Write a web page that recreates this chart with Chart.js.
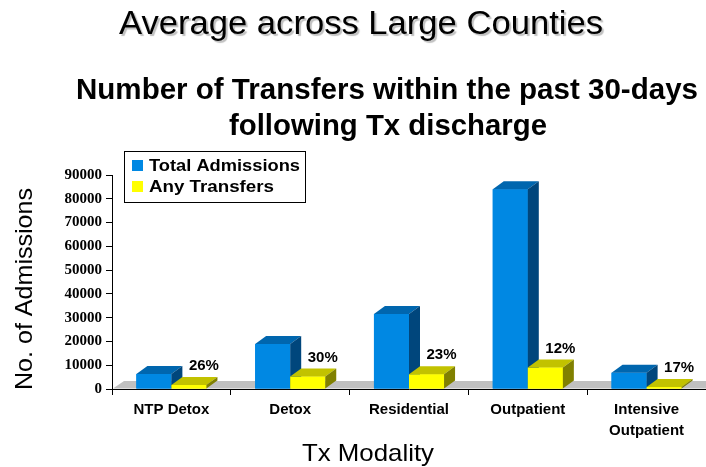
<!DOCTYPE html>
<html><head><meta charset="utf-8">
<script src="https://cdn.jsdelivr.net/npm/chart.js@4/dist/chart.umd.min.js"></script>
<style>html,body{margin:0;padding:0;background:#fff;}#wrap{width:706px;height:467px;position:relative;}</style>
</head><body><div id="wrap"><canvas id="c" width="706" height="467"></canvas></div>
<script>
// ---- data ----
const categories = [["NTP Detox"], ["Detox"], ["Residential"], ["Outpatient"], ["Intensive", "Outpatient"]];
const seriesNames = ["Total Admissions", "Any Transfers"];
const totalAdmissions = [6300, 18900, 31500, 84000, 6850];
const anyTransfers = [1700, 5300, 6200, 9000, 800];
const transferPctLabels = ["26%", "30%", "23%", "12%", "17%"];
const yMin = 0, yMax = 90000, yStep = 10000;
const mainTitle = "Average across Large Counties";
const chartTitleLines = ["Number of Transfers within the past 30-days", "following Tx discharge"];
const yAxisTitle = "No. of Admissions";
const xAxisTitle = "Tx Modality";

// ---- styling ----
const frontColors = ["#0088E3", "#FFFF00"];
const topColors = ["#0066AE", "#C2C200"];
const sideColors = ["#00467C", "#808000"];
const DX = 11, DY = 8;
const SANS = "'Liberation Sans', Arial, sans-serif";
const SERIF = "'Liberation Serif', 'Times New Roman', serif";

function fitText(ctx, text, x, y, font, width, align) {
  ctx.save();
  ctx.font = font;
  const w = ctx.measureText(text).width;
  const s = width ? width / w : 1;
  ctx.translate(x, y);
  ctx.scale(s, 1);
  ctx.textAlign = align || 'center';
  ctx.textBaseline = 'alphabetic';
  ctx.fillText(text, 0, 0);
  ctx.restore();
}

const floorPlugin = {
  id: 'floor3d',
  beforeDatasetsDraw(chart) {
    const ctx = chart.ctx, a = chart.chartArea;
    const base = chart.scales.y.getPixelForValue(0);
    ctx.save();
    ctx.fillStyle = '#C0C0C0';
    ctx.beginPath();
    ctx.moveTo(a.left + 1, base - 0.5);
    ctx.lineTo(a.left + 1 + DX, base - DY);
    ctx.lineTo(a.right, base - DY);
    ctx.lineTo(a.right, base - 0.5);
    ctx.closePath();
    ctx.fill();
    ctx.restore();
  }
};

const bars3dPlugin = {
  id: 'bars3d',
  afterDatasetsDraw(chart) {
    const ctx = chart.ctx;
    ctx.save();
    chart.data.datasets.forEach((ds, di) => {
      const meta = chart.getDatasetMeta(di);
      meta.data.forEach(bar => {
        bar.draw(ctx);
        const p = bar.getProps(['x', 'y', 'base', 'width'], true);
        const l = p.x - p.width / 2, r = p.x + p.width / 2;
        ctx.fillStyle = topColors[di];
        ctx.beginPath();
        ctx.moveTo(l, p.y); ctx.lineTo(l + DX, p.y - DY); ctx.lineTo(r + DX, p.y - DY); ctx.lineTo(r, p.y);
        ctx.closePath(); ctx.fill();
        ctx.fillStyle = sideColors[di];
        ctx.beginPath();
        ctx.moveTo(r, p.y); ctx.lineTo(r + DX, p.y - DY); ctx.lineTo(r + DX, p.base - DY); ctx.lineTo(r, p.base);
        ctx.closePath(); ctx.fill();
      });
    });
    // percentage labels above transfer bars
    const meta1 = chart.getDatasetMeta(1);
    ctx.fillStyle = '#000';
    ctx.font = "bold 15px " + SANS;
    ctx.textAlign = 'center';
    ctx.textBaseline = 'middle';
    meta1.data.forEach((bar, i) => {
      const p = bar.getProps(['x', 'y'], true);
      ctx.fillText(transferPctLabels[i], p.x + 15, p.y - 19);
    });
    ctx.restore();
  }
};

const textPlugin = {
  id: 'texts',
  afterDraw(chart) {
    const ctx = chart.ctx;
    ctx.save();
    ctx.fillStyle = '#000';
    // main title with soft shadow
    ctx.save();
    ctx.shadowColor = 'rgba(0,0,0,0.25)';
    ctx.shadowOffsetX = 2; ctx.shadowOffsetY = 2; ctx.shadowBlur = 1;
    fitText(ctx, mainTitle, 361, 34, "33px " + SANS, 484);
    ctx.restore();
    fitText(ctx, chartTitleLines[0], 387, 99, "bold 29px " + SANS, 622);
    fitText(ctx, chartTitleLines[1], 388, 135, "bold 29px " + SANS, 318);
    // axis titles
    ctx.save();
    ctx.translate(32, 289);
    ctx.rotate(-Math.PI / 2);
    fitText(ctx, yAxisTitle, 0, 0, "24px " + SANS, 202);
    ctx.restore();
    fitText(ctx, xAxisTitle, 368, 461, "24px " + SANS, 132);
    // legend
    const lx = 124.5, ly = 151.5, lw = 181, lh = 51;
    ctx.fillStyle = '#fff';
    ctx.fillRect(lx, ly, lw, lh);
    ctx.strokeStyle = '#000'; ctx.lineWidth = 1;
    ctx.strokeRect(lx, ly, lw, lh);
    const rows = [171, 192];
    seriesNames.forEach((n, i) => {
      ctx.fillStyle = frontColors[i];
      ctx.fillRect(132, rows[i] - 11, 11, 11);
      ctx.fillStyle = '#000';
      fitText(ctx, n, 149, rows[i], "bold 16px " + SANS, i === 0 ? 151 : 125, 'left');
    });
    ctx.restore();
  }
};

new Chart(document.getElementById('c'), {
  type: 'bar',
  data: {
    labels: categories,
    datasets: [
      { label: seriesNames[0], data: totalAdmissions, backgroundColor: frontColors[0], borderWidth: 0 },
      { label: seriesNames[1], data: anyTransfers, backgroundColor: frontColors[1], borderWidth: 0 }
    ]
  },
  options: {
    responsive: false,
    animation: false,
    devicePixelRatio: 1,
    layout: { padding: { top: 175, left: 0, right: 0, bottom: 0 } },
    categoryPercentage: 0.59,
    barPercentage: 1,
    plugins: { legend: { display: false }, title: { display: false }, tooltip: { enabled: false } },
    scales: {
      x: {
        grid: { display: true, drawOnChartArea: false, drawTicks: true, tickLength: 6, color: '#000', offset: true },
        border: { display: true, color: '#000', width: 1 },
        ticks: { color: '#000', font: { family: SANS, size: 15, weight: 'bold', lineHeight: 1.4 }, maxRotation: 0, autoSkip: false, padding: 4 },
        afterFit(s) { s.height = 78; }
      },
      y: {
        min: yMin, max: yMax,
        grid: { display: true, drawOnChartArea: false, drawTicks: true, tickLength: 6, color: '#000' },
        border: { display: true, color: '#000', width: 1 },
        ticks: { stepSize: yStep, color: '#000', font: { family: SERIF, size: 15, weight: 'bold' }, padding: 4,
                 callback: (v) => String(v) },
        afterFit(s) { s.width = 112; }
      }
    }
  },
  plugins: [floorPlugin, bars3dPlugin, textPlugin]
});
</script>
</body></html>
